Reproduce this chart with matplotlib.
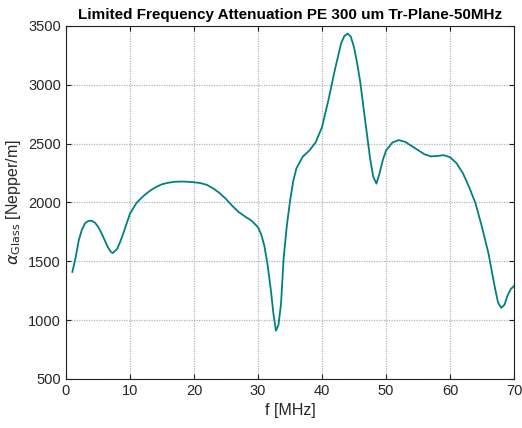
import matplotlib
matplotlib.use("Agg")
import matplotlib.pyplot as plt

freq = [1, 1.5, 2, 2.5, 3, 3.5, 4, 4.5, 5, 5.5, 6, 6.5, 7, 7.3, 8, 8.5, 9, 10, 11, 12, 13, 14, 15, 16, 17, 18, 19, 20, 21, 22, 23, 24, 25, 26, 27, 28, 29, 30, 30.5, 31, 31.5, 32, 32.4, 32.8, 33.2, 33.6, 34, 34.5, 35, 35.5, 36, 37, 38, 39, 40, 41, 42, 43, 43.5, 44, 44.5, 45, 45.5, 46, 46.5, 47, 47.5, 48, 48.5, 49, 49.5, 50, 51, 52, 53, 54, 55, 56, 57, 58, 59, 60, 61, 62, 63, 64, 65, 66, 67, 67.5, 68, 68.5, 69, 69.5, 70]
alpha = [1410, 1530, 1680, 1770, 1825, 1843, 1845, 1830, 1795, 1745, 1685, 1625, 1580, 1570, 1605, 1670, 1745, 1905, 1995, 2050, 2095, 2130, 2155, 2168, 2176, 2178, 2176, 2172, 2165, 2150, 2120, 2080, 2030, 1970, 1918, 1880, 1845, 1790, 1730, 1630, 1470, 1260, 1060, 910, 960, 1140, 1520, 1800, 2010, 2180, 2290, 2390, 2440, 2510, 2640, 2870, 3125, 3355, 3415, 3435, 3410, 3320, 3180, 3015, 2800, 2590, 2380, 2220, 2160, 2250, 2360, 2440, 2510, 2530, 2515, 2480, 2445, 2410, 2392, 2395, 2402, 2385, 2335, 2250, 2130, 1990, 1790, 1570, 1280, 1150, 1105, 1130, 1210, 1265, 1290]

txt = "#262626"
fig = plt.figure(figsize=(5.22, 4.28), dpi=100)
ax = fig.add_axes([0.1264, 0.1145, 0.8583, 0.8248])
ax.plot(freq, alpha, color="#008080", lw=1.3)
ax.set_xlim(0, 70)
ax.set_ylim(500, 3500)
ax.set_xticks(range(0, 71, 10))
ax.set_yticks(range(500, 3501, 500))
ax.grid(True, linestyle=(0, (1, 1)), color="#b5b5b5", lw=0.9)
ax.tick_params(direction="in", top=True, right=True, labelsize=10.5, length=3.5,
               labelcolor=txt, color="#222222")
for s in ax.spines.values():
    s.set_color("#222222")
for lab in ax.get_xticklabels() + ax.get_yticklabels():
    lab.set_family("Liberation Sans")
ax.set_xlabel("f [MHz]", fontsize=11.5, family="Liberation Sans", labelpad=4, color=txt)
ax.set_ylabel(r"$\alpha_{\mathrm{Glass}}$ [Nepper/m]", fontsize=11.5, family="Liberation Sans", labelpad=4, color=txt)
ax.set_title("Limited Frequency Attenuation PE 300 um Tr-Plane-50MHz", fontsize=11, fontweight="bold", family="Liberation Sans", pad=5)
fig.savefig("out.png", dpi=100)
